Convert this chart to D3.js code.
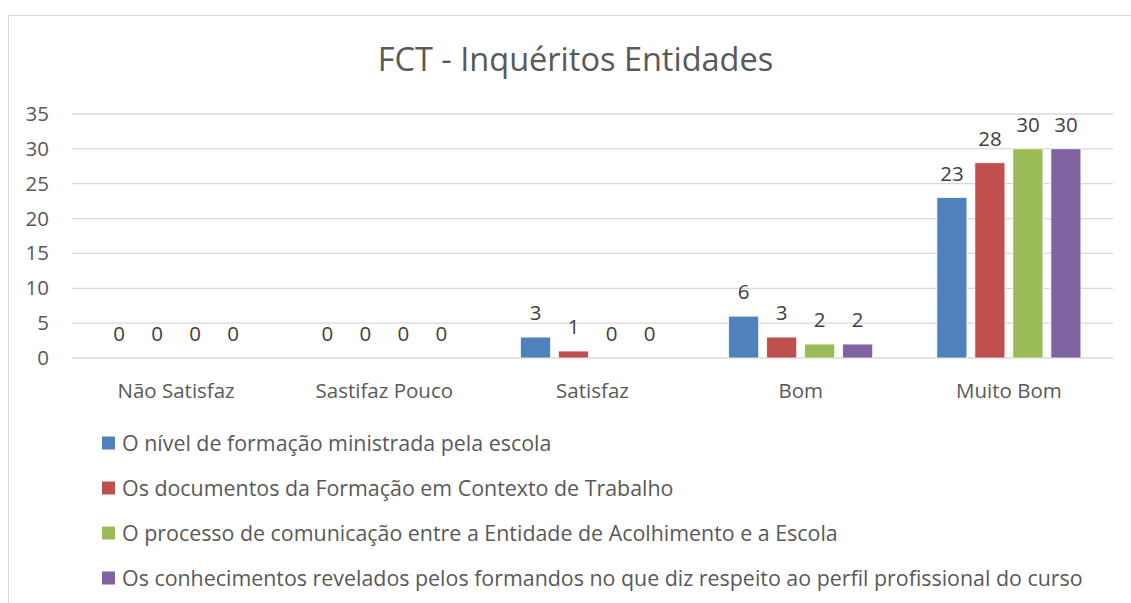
<!DOCTYPE html>
<html>
<head>
<meta charset="utf-8">
<script src="https://cdn.jsdelivr.net/npm/d3@7"></script>
<style>
  body { margin: 0; background: #fff; }
  text { font-family: "Open Sans", "Noto Sans", sans-serif; fill: #595959; }
</style>
</head>
<body>
<script>
// chart data
const categories = ["Não Satisfaz", "Sastifaz Pouco", "Satisfaz", "Bom", "Muito Bom"];
const seriesNames = [
    "O nível de formação ministrada pela escola",
    "Os documentos da Formação em Contexto de Trabalho",
    "O processo de comunicação entre a Entidade de Acolhimento e a Escola",
    "Os conhecimentos revelados pelos formandos no que diz respeito ao perfil profissional do curso"
];
const nivelFormacao = [0, 0, 3, 6, 23];
const documentosFCT = [0, 0, 1, 3, 28];
const processoComunicacao = [0, 0, 0, 2, 30];
const conhecimentosFormandos = [0, 0, 0, 2, 30];
const yTicks = [0, 5, 10, 15, 20, 25, 30, 35];
const colors = ["#4f81bd", "#c0504d", "#9bbb59", "#8064a2"];

const allSeries = [nivelFormacao, documentosFCT, processoComunicacao, conhecimentosFormandos];

let svgWidth = 1131;
let svgHeight = 603;

let margin = { top: 114, right: 18, bottom: 245, left: 72 };
let width = 1113 - margin.left;
let height = 358 - margin.top;

let svg = d3.select("body")
    .append("svg")
    .attr("width", svgWidth)
    .attr("height", svgHeight);

// outer chart frame
svg.append("rect")
    .attr("x", 8.5).attr("y", 15.5)
    .attr("width", 1200).attr("height", 700)
    .attr("fill", "none")
    .attr("stroke", "#d9d9d9")
    .attr("stroke-width", 1);

svg.append("text")
    .attr("x", 575.5)
    .attr("y", 71)
    .attr("text-anchor", "middle")
    .attr("font-size", 32.5)
    .text("FCT - Inquéritos Entidades");

let chartGroup = svg.append("g")
    .attr("transform", `translate(${margin.left}, ${margin.top})`);

let x0 = d3.scaleBand()
    .domain(categories)
    .range([0, width]);

let x1 = d3.scaleBand()
    .domain(d3.range(seriesNames.length))
    .range([-72, 72])
    .paddingInner(8 / 38);

let y = d3.scaleLinear()
    .domain([0, 35])
    .range([height, 0]);

// gridlines
chartGroup.selectAll(".grid")
    .data(yTicks)
    .enter()
    .append("line")
    .attr("x1", 0)
    .attr("x2", width)
    .attr("y1", d => y(d))
    .attr("y2", d => y(d))
    .attr("stroke", "#d9d9d9")
    .attr("stroke-width", 1.3);

// y tick labels
chartGroup.selectAll(".ytick")
    .data(yTicks)
    .enter()
    .append("text")
    .attr("x", -23)
    .attr("y", d => y(d) + 7)
    .attr("text-anchor", "end")
    .attr("font-size", 20.5)
    .text(d => d);

// category labels
chartGroup.selectAll(".xtick")
    .data(categories)
    .enter()
    .append("text")
    .attr("x", d => x0(d) + x0.bandwidth() / 2)
    .attr("y", height + 39.5)
    .attr("text-anchor", "middle")
    .attr("font-size", 20.5)
    .text(d => d);

// bars
let groups = chartGroup.selectAll(".cat")
    .data(categories)
    .enter()
    .append("g")
    .attr("transform", d => `translate(${x0(d) + x0.bandwidth() / 2}, 0)`);

let cells = groups.selectAll(".cell")
    .data((d, i) => allSeries.map((s, k) => ({ k: k, v: s[i] })))
    .enter()
    .append("g");

cells.append("rect")
    .attr("x", d => x1(d.k))
    .attr("y", d => y(d.v))
    .attr("width", x1.bandwidth())
    .attr("height", d => height - y(d.v))
    .attr("fill", d => colors[d.k])
    .attr("stroke", "#fff")
    .attr("stroke-width", 0.7);

cells.append("text")
    .attr("x", d => x1(d.k) + x1.bandwidth() / 2)
    .attr("y", d => y(d.v) - 17)
    .attr("text-anchor", "middle")
    .attr("font-size", 20.5)
    .style("fill", "#404040")
    .text(d => d.v);

// legend
let legend = svg.selectAll(".legend")
    .data(seriesNames)
    .enter()
    .append("g")
    .attr("transform", (d, i) => `translate(102, ${443 + i * 45})`);

legend.append("rect")
    .attr("x", 0)
    .attr("y", -6.5)
    .attr("width", 13)
    .attr("height", 13)
    .attr("fill", (d, i) => colors[i]);

legend.append("text")
    .attr("x", 20)
    .attr("y", 7.5)
    .attr("font-size", 21.4)
    .text(d => d);
</script>
</body>
</html>
